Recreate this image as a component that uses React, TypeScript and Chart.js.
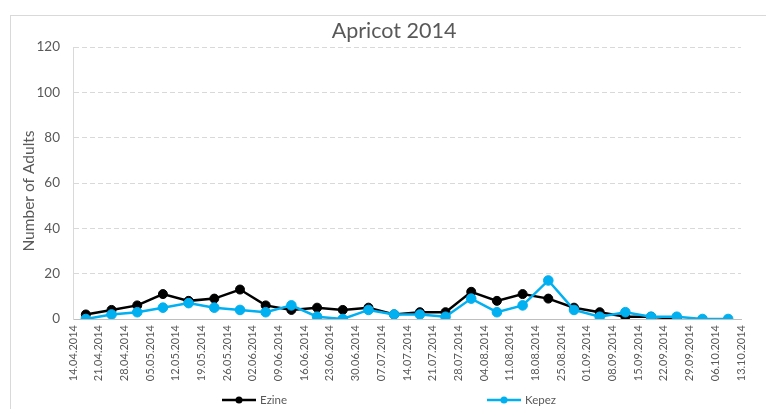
import React, { useEffect, useRef } from 'react';
import { Chart, registerables } from 'chart.js';

Chart.register(...registerables);

const chartTitle = 'Apricot 2014';
const yAxisTitle = 'Number of Adults';

const dateLabels = [
  '14.04.2014', '21.04.2014', '28.04.2014', '05.05.2014', '12.05.2014', '19.05.2014',
  '26.05.2014', '02.06.2014', '09.06.2014', '16.06.2014', '23.06.2014', '30.06.2014',
  '07.07.2014', '14.07.2014', '21.07.2014', '28.07.2014', '04.08.2014', '11.08.2014',
  '18.08.2014', '25.08.2014', '01.09.2014', '08.09.2014', '15.09.2014', '22.09.2014',
  '29.09.2014', '06.10.2014', '13.10.2014',
];

const ezineValues: (number | null)[] = [
  2, 4, 6, 11, 8, 9, 13, 6, 4, 5, 4, 5, 2, 3, 3, 12, 8, 11, 9, 5, 3, 1, 1, 0, null, null,
];

const kepezValues: (number | null)[] = [
  0, 2, 3, 5, 7, 5, 4, 3, 6, 1, 0, 4, 2, 2, 1, 9, 3, 6, 17, 4, 1, 3, 1, 1, 0, 0,
];

const yTicks = [0, 20, 40, 60, 80, 100, 120];

const FONT = "Lato, 'Open Sans', sans-serif";
const TEXT = '#595959';
const EZINE_COLOR = '#000000';
const KEPEZ_COLOR = '#00B0F0';

const decorPlugin = {
  id: 'decor',
  beforeDraw(chart: any) {
    const ctx = chart.ctx;
    ctx.save();
    ctx.fillStyle = '#ffffff';
    ctx.fillRect(0, 0, chart.width, chart.height);
    ctx.strokeStyle = '#d9d9d9';
    ctx.lineWidth = 1;
    ctx.strokeRect(10.5, 15.5, chart.width + 20, chart.height + 20);
    ctx.restore();
  },
  afterDraw(chart: any) {
    const ctx = chart.ctx;
    ctx.save();
    // chart title
    ctx.fillStyle = TEXT;
    ctx.font = `21.5px ${FONT}`;
    ctx.textAlign = 'center';
    ctx.textBaseline = 'middle';
    ctx.fillText(chartTitle, 394, 31);
    // y axis title
    ctx.save();
    ctx.translate(29, 191);
    ctx.rotate(-Math.PI / 2);
    ctx.font = `15.5px ${FONT}`;
    ctx.textAlign = 'center';
    ctx.textBaseline = 'middle';
    ctx.fillText(yAxisTitle, 0, 0);
    ctx.restore();
    // legend
    const items = [
      { label: 'Ezine', color: EZINE_COLOR, x: 222 },
      { label: 'Kepez', color: KEPEZ_COLOR, x: 487 },
    ];
    const y = 400;
    items.forEach((it) => {
      ctx.strokeStyle = it.color;
      ctx.lineWidth = 2.5;
      ctx.beginPath();
      ctx.moveTo(it.x, y);
      ctx.lineTo(it.x + 34, y);
      ctx.stroke();
      ctx.fillStyle = it.color;
      ctx.beginPath();
      ctx.arc(it.x + 17, y, 3.5, 0, Math.PI * 2);
      ctx.fill();
      ctx.fillStyle = TEXT;
      ctx.font = `11.5px ${FONT}`;
      ctx.textAlign = 'left';
      ctx.textBaseline = 'middle';
      ctx.fillText(it.label, it.x + 38, y);
    });
    ctx.restore();
  },
};

export default function App() {
  const canvasRef = useRef<HTMLCanvasElement | null>(null);

  useEffect(() => {
    if (!canvasRef.current) return;
    const toPoints = (arr: (number | null)[]) => arr.map((v, i) => ({ x: i + 0.5, y: v }));
    const chart = new Chart(canvasRef.current, {
      type: 'line',
      data: {
        datasets: [
          {
            label: 'Ezine',
            data: toPoints(ezineValues) as any,
            borderColor: EZINE_COLOR,
            backgroundColor: EZINE_COLOR,
            pointBackgroundColor: EZINE_COLOR,
            pointBorderColor: EZINE_COLOR,
            borderWidth: 2.5,
            pointRadius: 4.5,
            pointBorderWidth: 1,
            tension: 0,
            order: 1,
          },
          {
            label: 'Kepez',
            data: toPoints(kepezValues) as any,
            borderColor: KEPEZ_COLOR,
            backgroundColor: KEPEZ_COLOR,
            pointBackgroundColor: KEPEZ_COLOR,
            pointBorderColor: KEPEZ_COLOR,
            borderWidth: 2.5,
            pointRadius: 4.8,
            pointBorderWidth: 1,
            tension: 0,
            order: 0,
          },
        ],
      },
      options: {
        animation: false,
        responsive: false,
        devicePixelRatio: 1,
        layout: { padding: { top: 47, right: 25, bottom: 0, left: 0 } },
        plugins: {
          legend: { display: false },
          title: { display: false },
          tooltip: { enabled: false },
        },
        scales: {
          x: {
            type: 'linear',
            min: 0,
            max: dateLabels.length - 1,
            afterBuildTicks: (scale: any) => {
              scale.ticks = dateLabels.map((_, i) => ({ value: i }));
            },
            afterFit: (scale: any) => {
              scale.height = 90;
            },
            grid: { display: false, drawTicks: false },
            border: { display: true, color: '#bfbfbf', width: 1 },
            ticks: {
              autoSkip: false,
              minRotation: 90,
              maxRotation: 90,
              padding: 6,
              color: TEXT,
              font: { family: FONT, size: 11 },
              callback: (_v: any, i: number) => dateLabels[i],
            },
          },
          y: {
            type: 'linear',
            min: 0,
            max: 120,
            afterBuildTicks: (scale: any) => {
              scale.ticks = yTicks.map((v) => ({ value: v }));
            },
            afterFit: (scale: any) => {
              scale.width = 73;
            },
            grid: {
              drawTicks: false,
              color: (c: any) => (c.tick && c.tick.value === 0 ? 'rgba(0,0,0,0)' : '#d9d9d9'),
              lineWidth: 1,
            },
            border: { display: true, color: '#d9d9d9', width: 1, dash: [5, 3] },
            ticks: {
              padding: 13,
              color: TEXT,
              font: { family: FONT, size: 13.5 },
            },
            title: { display: false },
          },
        },
      } as any,
      plugins: [decorPlugin],
    });
    return () => chart.destroy();
  }, []);

  return (
    <div style={{ position: 'absolute', left: 0, top: 0, width: 766, height: 409 }}>
      <canvas ref={canvasRef} width={766} height={409} style={{ width: 766, height: 409 }} />
    </div>
  );
}
